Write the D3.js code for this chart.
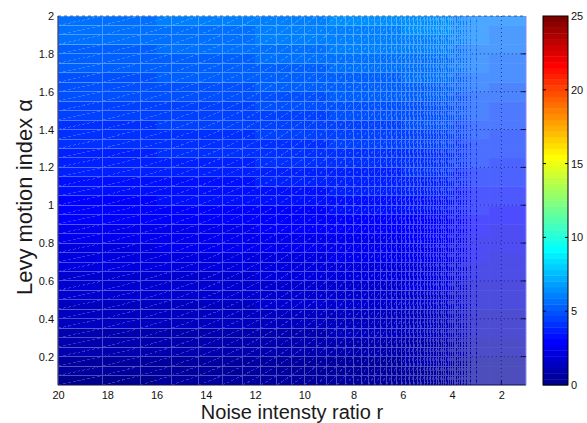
<!DOCTYPE html>
<html>
<head>
<meta charset="utf-8">
<script src="https://cdn.jsdelivr.net/npm/d3@7/dist/d3.min.js"></script>
<style>
  html, body { margin: 0; padding: 0; background: #fff; }
  svg { display: block; font-family: "Liberation Sans", Arial, Helvetica, sans-serif; }
</style>
</head>
<body>
<svg id="chart" width="587" height="423"></svg>
<script>
// ---- data --------------------------------------------------------------
// Levy motion index (row edges of the surface)
const alphaRows = [0.05, 0.10, 0.15, 0.20, 0.25, 0.30, 0.35, 0.40, 0.45, 0.50,
                   0.55, 0.60, 0.65, 0.70, 0.75, 0.80, 0.85, 0.90, 0.95, 1.00,
                   1.05, 1.10, 1.15, 1.20, 1.25, 1.30, 1.35, 1.40, 1.45, 1.50,
                   1.55, 1.60, 1.65, 1.70, 1.75, 1.80, 1.85, 1.90, 1.95, 2.00];
// Noise intensity ratio: column edges of the coloured bands
const rBreaks = [20, 16, 12, 9, 6, 4, 2.5, 1];
// Surface value for each row (alpha band) and each r band
const zValues = [
  [0.38, 0.40, 0.44, 0.48, 0.52, 0.50, 0.48],
  [0.52, 0.54, 0.58, 0.62, 0.66, 0.64, 0.62],
  [0.66, 0.69, 0.73, 0.77, 0.81, 0.78, 0.76],
  [0.80, 0.83, 0.87, 0.92, 0.96, 0.93, 0.90],
  [0.94, 0.97, 1.02, 1.07, 1.11, 1.08, 1.04],
  [1.08, 1.11, 1.16, 1.22, 1.26, 1.23, 1.18],
  [1.22, 1.26, 1.31, 1.37, 1.41, 1.37, 1.32],
  [1.34, 1.38, 1.44, 1.50, 1.54, 1.50, 1.44],
  [1.48, 1.52, 1.58, 1.64, 1.69, 1.64, 1.58],
  [1.62, 1.66, 1.72, 1.79, 1.84, 1.78, 1.72],
  [1.76, 1.80, 1.87, 1.94, 1.99, 1.93, 1.86],
  [1.90, 1.95, 2.02, 2.09, 2.14, 2.08, 2.00],
  [2.04, 2.09, 2.16, 2.24, 2.29, 2.22, 2.14],
  [2.18, 2.23, 2.31, 2.39, 2.44, 2.37, 2.28],
  [2.32, 2.38, 2.46, 2.54, 2.60, 2.52, 2.42],
  [2.46, 2.52, 2.61, 2.69, 2.75, 2.66, 2.56],
  [2.62, 2.68, 2.77, 2.86, 2.92, 2.83, 2.72],
  [2.78, 2.84, 2.94, 3.03, 3.09, 3.00, 2.88],
  [2.94, 3.01, 3.10, 3.20, 3.26, 3.16, 3.04],
  [3.10, 3.17, 3.27, 3.37, 3.43, 3.33, 3.20],
  [3.26, 3.33, 3.44, 3.54, 3.60, 3.49, 3.36],
  [3.42, 3.50, 3.61, 3.71, 3.77, 3.66, 3.52],
  [3.58, 3.66, 3.77, 3.88, 3.94, 3.82, 3.68],
  [3.72, 3.80, 3.92, 4.03, 4.10, 3.97, 3.82],
  [3.86, 3.95, 4.07, 4.18, 4.25, 4.12, 3.96],
  [4.00, 4.09, 4.22, 4.34, 4.41, 4.27, 4.10],
  [4.14, 4.24, 4.37, 4.49, 4.56, 4.42, 4.24],
  [4.28, 4.38, 4.52, 4.64, 4.72, 4.57, 4.38],
  [4.42, 4.53, 4.67, 4.80, 4.88, 4.72, 4.52],
  [4.56, 4.67, 4.82, 4.95, 5.03, 4.87, 4.66],
  [4.70, 4.82, 4.97, 5.11, 5.19, 5.02, 4.80],
  [4.84, 4.96, 5.12, 5.26, 5.35, 5.17, 4.94],
  [4.98, 5.11, 5.27, 5.42, 5.51, 5.32, 5.08],
  [5.12, 5.25, 5.42, 5.57, 5.66, 5.47, 5.22],
  [5.26, 5.40, 5.57, 5.73, 5.82, 5.62, 5.36],
  [5.40, 5.54, 5.72, 5.88, 5.98, 5.77, 5.50],
  [5.54, 5.69, 5.87, 6.04, 6.14, 5.92, 5.64],
  [5.68, 5.83, 6.02, 6.19, 6.29, 6.07, 5.78],
  [5.82, 5.98, 6.17, 6.35, 6.45, 6.22, 5.92]
];
// Mesh columns: r sampled uniformly in 1/r from 0.05 to 1
const meshInvR = d3.range(0.05, 1.00001, 0.005);
const rTicks = [20, 18, 16, 14, 12, 10, 8, 6, 4, 2];
const alphaTicks = [0.2, 0.4, 0.6, 0.8, 1, 1.2, 1.4, 1.6, 1.8, 2];
const colorTicks = [0, 5, 10, 15, 20, 25];
const colorLimits = [0, 25];

// ---- jet colormap (64 levels) -----------------------------------------
function jetMap(m) {
  const n = Math.ceil(m / 4);
  const u = [];
  for (let i = 1; i <= n; i++) u.push(i / n);
  for (let i = 1; i < n; i++) u.push(1);
  for (let i = n; i >= 1; i--) u.push(i / n);
  const g0 = Math.ceil(n / 2) - (m % 4 === 1 ? 1 : 0);
  const cols = d3.range(m).map(() => [0, 0, 0]);
  u.forEach((v, k) => {
    const gi = g0 + k, ri = gi + n, bi = gi - n;
    if (gi >= 0 && gi < m) cols[gi][1] = v;
    if (ri >= 0 && ri < m) cols[ri][0] = v;
    if (bi >= 0 && bi < m) cols[bi][2] = v;
  });
  return cols.map(c => d3.rgb(c[0] * 255, c[1] * 255, c[2] * 255).toString());
}
const jet = jetMap(64);
const colorOf = v => {
  const t = (v - colorLimits[0]) / (colorLimits[1] - colorLimits[0]);
  const i = Math.max(0, Math.min(63, Math.floor(t * 64)));
  return jet[i];
};

// ---- layout ------------------------------------------------------------
const svg = d3.select("#chart");
const plot = { left: 58, right: 526, top: 16, bottom: 385 };
const cbar = { left: 543, right: 568, top: 16, bottom: 385 };

const x = d3.scaleLinear().domain([20, 1]).range([plot.left, plot.right]);
const y = d3.scaleLinear().domain([0.05, 2]).range([plot.bottom, plot.top]);
const yc = d3.scaleLinear().domain(colorLimits).range([cbar.bottom, cbar.top]);

svg.append("rect").attr("width", 587).attr("height", 423).attr("fill", "#fff");

svg.append("clipPath").attr("id", "plotClip")
  .append("rect")
  .attr("x", plot.left).attr("y", plot.top)
  .attr("width", plot.right - plot.left).attr("height", plot.bottom - plot.top);

const area = svg.append("g").attr("clip-path", "url(#plotClip)");

// ---- surface faces -----------------------------------------------------
const faces = [];
zValues.forEach((row, i) => {
  row.forEach((v, j) => {
    faces.push({ a0: alphaRows[i], a1: alphaRows[i + 1], r0: rBreaks[j], r1: rBreaks[j + 1], v });
  });
});
area.append("g").selectAll("rect").data(faces).join("rect")
  .attr("x", d => x(d.r0))
  .attr("y", d => y(d.a1))
  .attr("width", d => x(d.r1) - x(d.r0) + 0.5)
  .attr("height", d => y(d.a0) - y(d.a1) + 0.5)
  .attr("fill", d => colorOf(d.v));

// ---- mesh edges (aliased, drawn as one translucent layer) --------------
const meshR = meshInvR.map(s => 1 / s);
const mesh = area.append("g").attr("opacity", 0.3).attr("shape-rendering", "crispEdges");
const x0 = x(meshR[0]), x1 = x(meshR[meshR.length - 1]);
const y0 = y(alphaRows[0]), y1 = y(alphaRows[alphaRows.length - 1]);

let hPath = "";
alphaRows.forEach(a => { hPath += `M${x0},${y(a)}H${x1}`; });
let vPath = "";
meshR.forEach(r => { vPath += `M${x(r)},${y0}V${y1}`; });
let dPath = "";
for (let i = 0; i < alphaRows.length - 1; i++) {
  for (let j = 0; j < meshR.length - 1; j++) {
    dPath += `M${x(meshR[j])},${y(alphaRows[i])}L${x(meshR[j + 1])},${y(alphaRows[i + 1])}`;
  }
}
mesh.append("path").attr("d", hPath).attr("stroke", "#fff").attr("stroke-width", 1).attr("fill", "none");
mesh.append("path").attr("d", vPath).attr("stroke", "#fff").attr("stroke-width", 1).attr("fill", "none");
mesh.append("path").attr("d", dPath).attr("stroke", "#fff").attr("stroke-width", 1)
  .attr("stroke-opacity", 0.7).attr("stroke-dasharray", "3,2").attr("fill", "none");

// ---- dotted grid lines showing through at low r ------------------------
const grid = area.append("g").attr("stroke", "#14145a").attr("stroke-width", 1)
  .attr("stroke-dasharray", "1,3").attr("opacity", 0.75);
grid.append("line")
  .attr("x1", x(2)).attr("x2", x(2)).attr("y1", plot.top).attr("y2", plot.bottom);
alphaTicks.filter(a => a < 2).forEach(a => {
  grid.append("line")
    .attr("x1", x(3.2)).attr("x2", plot.right).attr("y1", y(a)).attr("y2", y(a));
});

// ---- axis frame & ticks ------------------------------------------------
const frame = svg.append("g").attr("fill", "none").attr("stroke", "#10104a").attr("stroke-width", 1);
frame.append("line").attr("x1", plot.left).attr("x2", plot.left).attr("y1", plot.top).attr("y2", plot.bottom);
frame.append("line").attr("x1", plot.left).attr("x2", plot.right).attr("y1", plot.bottom).attr("y2", plot.bottom);
frame.append("line").attr("x1", plot.left).attr("x2", plot.right).attr("y1", plot.top).attr("y2", plot.top)
  .attr("stroke-dasharray", "3,3").attr("opacity", 0.6);
frame.append("line").attr("x1", plot.right).attr("x2", plot.right).attr("y1", plot.top).attr("y2", plot.bottom)
  .attr("stroke", "#8c8cf0");
alphaTicks.filter(a => a < 2).forEach(a => {
  frame.append("line").attr("x1", plot.right - 5).attr("x2", plot.right).attr("y1", y(a)).attr("y2", y(a));
});
frame.append("line").attr("x1", x(2)).attr("x2", x(2)).attr("y1", plot.bottom - 5).attr("y2", plot.bottom);

// ---- tick labels -------------------------------------------------------
const xAxis = svg.append("g").attr("transform", `translate(0,${plot.bottom})`)
  .call(d3.axisBottom(x).tickValues(rTicks).tickSize(0).tickPadding(6).tickFormat(d3.format("d")));
const yAxis = svg.append("g").attr("transform", `translate(${plot.left},0)`)
  .call(d3.axisLeft(y).tickValues(alphaTicks).tickSize(0).tickPadding(4).tickFormat(d => String(d)));
[xAxis, yAxis].forEach(g => {
  g.select(".domain").remove();
  g.selectAll("text").attr("font-size", 11).attr("fill", "#111")
    .attr("font-family", "'Liberation Sans', Arial, sans-serif");
});

// ---- axis titles -------------------------------------------------------
svg.append("text")
  .attr("x", (plot.left + plot.right) / 2).attr("y", 418.5)
  .attr("text-anchor", "middle").attr("font-size", 20).attr("fill", "#1a1a1a")
  .text("Noise intensty ratio r");
svg.append("text")
  .attr("transform", `translate(31.5,197) rotate(-90)`)
  .attr("text-anchor", "middle").attr("font-size", 22).attr("fill", "#1a1a1a")
  .text("Levy motion index α");

// ---- colorbar ----------------------------------------------------------
const levels = d3.range(64);
svg.append("g").selectAll("rect").data(levels).join("rect")
  .attr("x", cbar.left)
  .attr("y", i => yc((i + 1) * 25 / 64))
  .attr("width", cbar.right - cbar.left)
  .attr("height", i => yc(i * 25 / 64) - yc((i + 1) * 25 / 64) + 0.4)
  .attr("fill", i => jet[i]);
svg.append("rect")
  .attr("x", cbar.left).attr("y", cbar.top)
  .attr("width", cbar.right - cbar.left).attr("height", cbar.bottom - cbar.top)
  .attr("fill", "none").attr("stroke", "#000").attr("stroke-width", 1);
const cbTicks = svg.append("g").attr("stroke", "#000").attr("stroke-width", 1);
colorTicks.filter(v => v > 0 && v < 25).forEach(v => {
  cbTicks.append("line").attr("x1", cbar.left).attr("x2", cbar.left + 3).attr("y1", yc(v)).attr("y2", yc(v));
  cbTicks.append("line").attr("x1", cbar.right - 3).attr("x2", cbar.right).attr("y1", yc(v)).attr("y2", yc(v));
});
const cAxis = svg.append("g").attr("transform", `translate(${cbar.right},0)`)
  .call(d3.axisRight(yc).tickValues(colorTicks).tickSize(0).tickPadding(3));
cAxis.select(".domain").remove();
cAxis.selectAll("text").attr("font-size", 11).attr("fill", "#111")
  .attr("font-family", "'Liberation Sans', Arial, sans-serif");
</script>
</body>
</html>
